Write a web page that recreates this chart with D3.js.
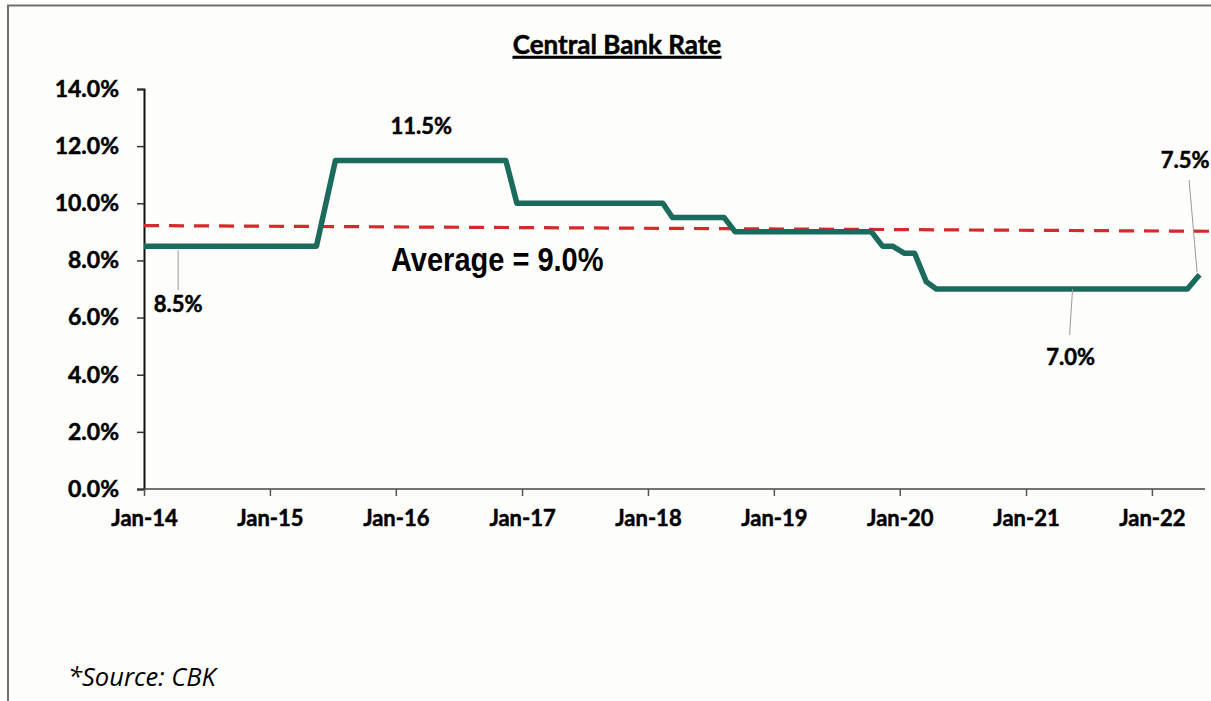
<!DOCTYPE html>
<html>
<head>
<meta charset="utf-8">
<script src="https://cdn.jsdelivr.net/npm/d3@7"></script>
<style>
  html, body { margin: 0; padding: 0; background: #fdfdfb; }
  svg { display: block; }
</style>
</head>
<body>
<div id="chart"></div>
<script>
// Central Bank Rate (%), points where the line bends
const rateDates = ["2014-01-01","2015-05-16","2015-07-10","2016-11-15","2016-12-17","2018-02-13","2018-03-13",
  "2018-08-10","2018-09-11","2019-10-11","2019-11-12","2019-12-11","2020-01-15","2020-02-13","2020-03-18",
  "2020-04-16","2022-04-14","2022-05-19"];
const rateValues = [8.5, 8.5, 11.5, 11.5, 10.0, 10.0, 9.5, 9.5, 9.0, 9.0, 8.5, 8.5, 8.25, 8.25, 7.25, 7.0, 7.0, 7.5];

// average line (drawn slightly sloped in the original)
const avgDates = ["2014-01-01", "2022-07-01"];
const avgValues = [9.22, 9.02];

const yTicks = [0, 2, 4, 6, 8, 10, 12, 14];
const tickYears = ["2014","2015","2016","2017","2018","2019","2020","2021","2022"];

// data labels: anchor date/value, label text
const labelDates = ["2014-04-10", "2016-03-15", "2021-05-16", "2022-05-12"];
const labelValues = [8.5, 11.5, 7.0, 7.45];
const labelTexts = ["8.5%", "11.5%", "7.0%", "7.5%"];

const W = 1211, H = 701;
const parse = d3.utcParse("%Y-%m-%d");

const svg = d3.select("#chart").append("svg").attr("width", W).attr("height", H);

// frame (left + top border)
svg.append("line").attr("x1", 8).attr("x2", 8).attr("y1", 5).attr("y2", H).attr("stroke", "#707070").attr("stroke-width", 2);
svg.append("line").attr("x1", 7).attr("x2", W).attr("y1", 5.5).attr("y2", 5.5).attr("stroke", "#707070").attr("stroke-width", 2);

const x = d3.scaleUtc().domain([parse("2014-01-01"), parse("2022-06-01")]).range([144, 1204]);
const y = d3.scaleLinear().domain([0, 14]).range([489, 89]);

const heavy = sel => sel.attr("font-family", "Lato").attr("font-weight", "bold").attr("fill", "#000")
  .attr("stroke", "#000").attr("stroke-width", 0.5);

// title
svg.append("text").attr("x", 617).attr("y", 54).attr("text-anchor", "middle")
  .attr("font-size", 26).attr("text-decoration", "underline").text("Central Bank Rate").call(heavy);

// y axis
const yAxis = svg.append("g").attr("transform", "translate(144,0)")
  .call(d3.axisLeft(y).tickValues(yTicks).tickSize(7).tickPadding(18).tickFormat(d => d3.format(".1f")(d) + "%"));
yAxis.select(".domain").attr("stroke", "#111").attr("stroke-width", 2);
yAxis.selectAll(".tick line").attr("stroke", "#333").attr("stroke-width", 1.5);
yAxis.selectAll("text").attr("font-size", 23).call(heavy);

// x axis
const xAxis = svg.append("g").attr("transform", "translate(0,489)")
  .call(d3.axisBottom(x).tickValues(tickYears.map(s => parse(s + "-01-01"))).tickSize(7).tickPadding(14)
    .tickFormat(d3.utcFormat("Jan-%y")).tickSizeOuter(0));
xAxis.select(".domain").attr("stroke", "#444").attr("stroke-width", 1.5).attr("d", "M144,0H1205");
xAxis.selectAll(".tick line").attr("stroke", "#555").attr("stroke-width", 1.5);
xAxis.selectAll("text").attr("font-size", 22).call(heavy);

// average dashed line
const avg = avgDates.map((d, i) => ({ date: parse(d), value: avgValues[i] }));
svg.append("path").datum(avg)
  .attr("d", d3.line().x(d => x(d.date)).y(d => y(d.value)))
  .attr("fill", "none").attr("stroke", "#d42a2a").attr("stroke-width", 3.2).attr("stroke-dasharray", "15,10");

// rate line
const rate = rateDates.map((d, i) => ({ date: parse(d), value: rateValues[i] }));
svg.append("path").datum(rate)
  .attr("d", d3.line().x(d => x(d.date)).y(d => y(d.value)))
  .attr("fill", "none").attr("stroke", "#1a6b5b").attr("stroke-width", 5.5).attr("stroke-linejoin", "round");

// data labels with leader lines
const lbl = labelTexts.map((t, i) => ({ date: parse(labelDates[i]), value: labelValues[i], text: t }));
const offsets = [
  { lx: 0, ly1: 4, ly2: 44, tx: 0, ty: 66 },
  { lx: 0, ly1: 0, ly2: 0, tx: 0, ty: -26 },
  { lx: -3, ly1: 0, ly2: 46, tx: -2, ty: 76 },
  { lx: -8, ly1: -4, ly2: -96, tx: -12, ty: -108 }
];
lbl.forEach((d, i) => {
  const o = offsets[i], ax = x(d.date), ay = y(d.value);
  if (o.ly2 !== o.ly1) {
    svg.append("line").attr("x1", ax).attr("y1", ay + o.ly1).attr("x2", ax + o.lx).attr("y2", ay + o.ly2)
      .attr("stroke", "#9a9a9a").attr("stroke-width", 1);
  }
  svg.append("text").attr("x", ax + o.tx).attr("y", ay + o.ty).attr("text-anchor", "middle")
    .attr("font-size", 22).text(d.text).call(heavy);
});

// average label (slightly taller than wide, as in the original)
svg.append("text").attr("transform", "translate(391,271) scale(1,1.15)")
  .attr("font-family", "Liberation Sans").attr("font-weight", "bold").attr("font-size", 29).attr("fill", "#000")
  .text("Average = 9.0%");

// source
svg.append("text").attr("x", 68).attr("y", 686)
  .attr("font-family", "Open Sans").attr("font-style", "italic").attr("font-size", 25.5).attr("fill", "#000")
  .text("*Source: CBK");
</script>
</body>
</html>
